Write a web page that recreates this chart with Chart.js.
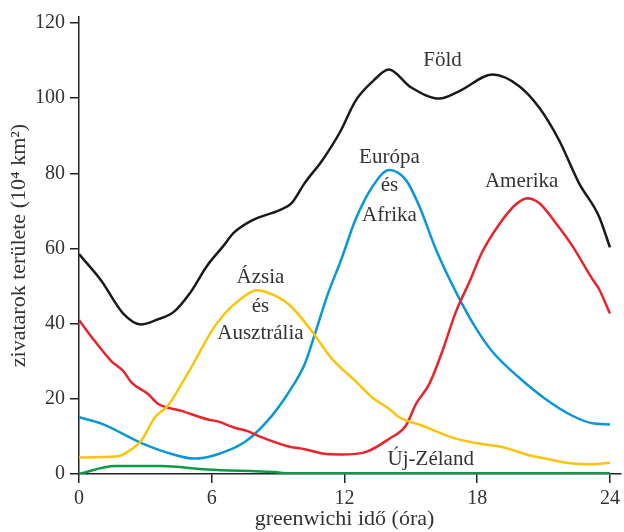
<!DOCTYPE html>
<html>
<head>
<meta charset="utf-8">
<script src="https://cdn.jsdelivr.net/npm/chart.js@4/dist/chart.umd.min.js"></script>
<style>
  body { margin: 0; background: #fff; }
</style>
</head>
<body>
<canvas id="myChart" width="624" height="532"></canvas>
<script>
// x ticks (greenwichi idő, óra)
var xTicks = [0, 6, 12, 18, 24];

// Föld
var foldX = [0, 1, 2, 2.8, 3.5, 4.3, 5, 5.8, 6.5, 7, 7.9, 9.1, 9.6, 10.2, 11, 11.8, 12.5, 13.3, 14, 15, 16.3, 17.2, 18.7, 19.9, 20.8, 21.7, 22.6, 23.5, 24];
var foldY = [58.5, 51.5, 42.7, 39.8, 41, 43.2, 48, 55.5, 60.5, 64.2, 67.7, 70.3, 72, 77.4, 83.5, 91, 99.3, 104.6, 107.6, 102.9, 99.9, 101.9, 106.3, 103.2, 97.5, 88.8, 77.4, 68.6, 60.3];

// Amerika
var amerikaX = [0, 0.72, 1.47, 2, 2.38, 3.12, 3.57, 4.63, 5.83, 6.27, 7.04, 7.62, 8.24, 9.43, 10.2, 11.2, 11.85, 12.98, 14.03, 14.78, 15.23, 15.83, 16.42, 17.04, 17.64, 18.22, 18.99, 19.74, 20.26, 20.8, 21.55, 22.3, 23.2, 23.5, 24];
var amerikaY = [41, 35.3, 30, 27.4, 24.3, 21.3, 18.7, 16.8, 14.5, 14, 12.3, 11.4, 9.8, 7.4, 6.6, 5.3, 5.2, 5.9, 9.4, 12.9, 18.6, 23.9, 32.6, 43.2, 51, 59, 66.4, 71.7, 73.4, 72.1, 66.8, 60.7, 51.9, 49.3, 42.7];

// Európa és Afrika
var europaX = [0, 1.02, 2.83, 3.88, 5.23, 6.13, 7.49, 8.53, 9.43, 10.2, 10.65, 11.23, 11.85, 12.5, 13.27, 14.03, 14.78, 15.38, 16.13, 17.04, 17.94, 18.68, 19.9, 21.1, 22.3, 23.2, 24];
var europaY = [15.1, 13.4, 8.2, 5.9, 4.1, 5, 8.5, 14.2, 21.3, 29.2, 37, 47.6, 57, 67.7, 76.5, 80.9, 78.2, 71.3, 59.8, 48.4, 38.8, 32.6, 25.6, 19.9, 15.5, 13.5, 13.2];

// Ázsia és Ausztrália
var azsiaX = [0, 1.76, 2.2, 2.83, 3.43, 4.02, 4.63, 5.23, 5.98, 6.59, 7.34, 8.02, 8.84, 9.6, 10.65, 11.4, 12.5, 13.27, 14.03, 14.48, 15.5, 17.04, 18.09, 19.13, 20.34, 21.1, 22.3, 23.2, 24];
var azsiaY = [4.4, 4.7, 5.9, 9, 15.1, 18.2, 23.9, 30, 37.9, 42.7, 46.7, 48.9, 47.5, 44.5, 37, 30.9, 24.7, 20.3, 17.3, 15.1, 12.9, 9.4, 8.1, 7.2, 5, 4.1, 2.8, 2.6, 3];

// Új-Zéland
var zelandX = [0, 1.62, 3.7, 5.8, 8.84, 9.5, 24];
var zelandY = [0, 2.1, 2.1, 1.2, 0.5, 0.2, 0.2];

// region labels (text, hour, value of baseline)
var labelTexts = ['Föld', 'Európa', 'és', 'Afrika', 'Amerika', 'Ázsia', 'és', 'Ausztrália', 'Új-Zéland'];
var labelX = [16.43, 14.03, 14.03, 14.03, 20.01, 8.2, 8.2, 8.2, 15.9];
var labelY = [108.5, 82.7, 75.3, 67.4, 76.3, 50.7, 43.2, 35.8, 2.4];

function pts(xs, ys) {
    return xs.map(function (x, i) { return { x: x, y: ys[i] }; });
}

var serif = '"Liberation Serif", "Times New Roman", serif';

var regionLabels = {
    id: 'regionLabels',
    afterDatasetsDraw: function (chart) {
        var c = chart.ctx;
        var sx = chart.scales.x, sy = chart.scales.y;
        c.save();
        c.font = '21px ' + serif;
        c.fillStyle = '#333';
        c.textAlign = 'center';
        c.textBaseline = 'alphabetic';
        labelTexts.forEach(function (t, i) {
            c.fillText(t, sx.getPixelForValue(labelX[i]), sy.getPixelForValue(labelY[i]));
        });
        c.restore();
    }
};

var ctx = document.getElementById('myChart').getContext('2d');
var myChart = new Chart(ctx, {
    type: 'line',
    data: {
        datasets: [
            { label: 'Föld', data: pts(foldX, foldY), borderColor: '#1a1a1a' },
            { label: 'Ázsia és Ausztrália', data: pts(azsiaX, azsiaY), borderColor: '#fcc30b' },
            { label: 'Amerika', data: pts(amerikaX, amerikaY), borderColor: '#e8232b' },
            { label: 'Európa és Afrika', data: pts(europaX, europaY), borderColor: '#0a96d8' },
            { label: 'Új-Zéland', data: pts(zelandX, zelandY), borderColor: '#0a9b48' }
        ]
    },
    options: {
        responsive: false,
        animation: false,
        layout: { padding: { top: 11, right: 2, left: 0, bottom: 0 } },
        elements: {
            point: { radius: 0 },
            line: { borderWidth: 2.5, fill: false, cubicInterpolationMode: 'monotone' }
        },
        plugins: {
            legend: { display: false },
            tooltip: { enabled: false }
        },
        scales: {
            x: {
                type: 'linear',
                min: 0,
                max: 24.5,
                afterBuildTicks: function (scale) {
                    scale.ticks = xTicks.map(function (v) { return { value: v }; });
                },
                afterFit: function (scale) { scale.height = 58; },
                border: { color: '#222', width: 1.5 },
                grid: { drawOnChartArea: false, tickLength: 9, color: '#222', lineWidth: 1.5 },
                ticks: { color: '#333', padding: 4, maxRotation: 0, font: { family: serif, size: 20 } },
                title: {
                    display: true,
                    text: 'greenwichi idő (óra)\u00a0\u00a0',
                    color: '#333',
                    padding: { top: 0, bottom: 0 },
                    font: { family: serif, size: 22 }
                }
            },
            y: {
                min: 0,
                max: 121.6,
                afterBuildTicks: function (scale) {
                    scale.ticks = [0, 20, 40, 60, 80, 100, 120].map(function (v) { return { value: v }; });
                },
                afterFit: function (scale) { scale.width = 79; },
                border: { color: '#222', width: 1.5 },
                grid: { drawOnChartArea: false, tickLength: 9, color: '#222', lineWidth: 1.5 },
                ticks: { color: '#333', padding: 5, font: { family: serif, size: 20 } },
                title: {
                    display: true,
                    text: 'zivatarok területe (10⁴ km²)',
                    color: '#333',
                    padding: { top: 6, bottom: 0 },
                    font: { family: serif, size: 22 }
                }
            }
        }
    },
    plugins: [regionLabels]
});
</script>
</body>
</html>
